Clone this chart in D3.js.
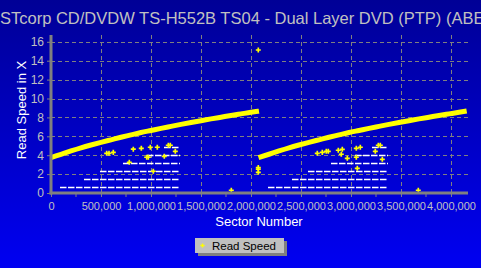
<!DOCTYPE html>
<html><head><meta charset="utf-8">
<script src="https://cdn.jsdelivr.net/npm/d3@7"></script>
<style>
html,body{margin:0;padding:0;background:#0000c0;}
svg{display:block;}
text{font-family:Arial,"Liberation Sans",sans-serif;}
</style></head>
<body>
<svg id="chart" width="481" height="268"></svg>
<script>
// ---- data ----
const titleText = "STcorp CD/DVDW TS-H552B TS04 - Dual Layer DVD (PTP) (ABE";
const xTickValues = [0, 500000, 1000000, 1500000, 2000000, 2500000, 3000000, 3500000, 4000000];
const xMinorTicks = [250000, 750000, 1250000, 1750000, 2250000, 2750000, 3250000, 3750000];
const yTickValues = [0, 2, 4, 6, 8, 10, 12, 14, 16];

// main read speed curve, layer 0
const layer0Sectors = [0, 100000, 200000, 300000, 400000, 500000, 600000, 700000, 800000, 900000, 1000000, 1100000, 1200000, 1300000, 1400000, 1500000, 1600000, 1700000, 1800000, 1900000, 2000000, 2080000];
const layer0Speeds  = [3.75, 4.1, 4.45, 4.78, 5.08, 5.36, 5.63, 5.9, 6.15, 6.4, 6.62, 6.84, 7.05, 7.26, 7.46, 7.65, 7.84, 8.02, 8.2, 8.37, 8.54, 8.66];
// layer 1
const layer1Sectors = [2075000, 2180000, 2280000, 2380000, 2480000, 2580000, 2680000, 2780000, 2880000, 2980000, 3080000, 3180000, 3280000, 3380000, 3480000, 3580000, 3680000, 3780000, 3880000, 3980000, 4080000, 4157000];
const layer1Speeds  = [3.75, 4.1, 4.45, 4.78, 5.08, 5.36, 5.63, 5.9, 6.15, 6.4, 6.62, 6.84, 7.05, 7.26, 7.46, 7.65, 7.84, 8.02, 8.2, 8.37, 8.54, 8.68];

// scattered read speed samples
const scatterSectors = [557000, 580000, 623000, 783000, 823000, 903000, 957000, 973000, 993000, 1023000, 1063000, 1133000, 1173000, 1193000, 1243000, 1803000,
  2073000, 2073000, 2073000, 2073000,
  2663000, 2713000, 2753000, 2773000, 2873000, 2903000, 2913000, 2963000, 3053000, 3053000, 3063000, 3093000, 3243000, 3273000, 3293000, 3313000, 3673000];
const scatterSpeeds  = [4.2, 4.2, 4.3, 3.25, 4.64, 4.73, 3.78, 3.78, 4.84, 2.3, 4.84, 3.88, 5.05, 5.05, 4.41, 0.29,
  15.13, 2.7, 2.52, 2.19,
  4.2, 4.3, 4.41, 4.41, 4.52, 4.1, 4.62, 3.67, 4.73, 3.78, 2.61, 4.84, 4.41, 5.05, 5.05, 3.56, 0.29];

// white dashed level lines
const levelValues = [0.63, 1.48, 2.33, 3.17, 4.02, 4.87, 0.63, 1.48, 2.33, 3.17, 4.02, 4.87];
const levelStarts = [90000, 330000, 490000, 720000, 960000, 1130000, 2170000, 2410000, 2570000, 2800000, 3040000, 3210000];
const levelEnds   = [1290000, 1290000, 1290000, 1290000, 1290000, 1290000, 3370000, 3370000, 3370000, 3370000, 3370000, 3370000];

const seriesName = "Read Speed";
const xTitle = "Sector Number";
const yTitle = "Read Speed in X";

// ---- drawing ----
const svg = d3.select("#chart");
const W = 481, H = 268;
const defs = svg.append("defs");
const grad = defs.append("linearGradient").attr("id","bg").attr("x1",0).attr("y1",0).attr("x2",0).attr("y2",1);
grad.append("stop").attr("offset","0%").attr("stop-color","#000096");
grad.append("stop").attr("offset","100%").attr("stop-color","#0000f2");
svg.append("rect").attr("width",W).attr("height",H).attr("fill","url(#bg)");

const x = d3.scaleLinear().domain([0, 4170000]).range([51, 468]);
const y = d3.scaleLinear().domain([0, 16.72]).range([193, 35]);

const gridColor = "#808080";
// grid
svg.append("g").selectAll("line").data(yTickValues.filter(d=>d>0)).join("line")
  .attr("x1", x.range()[0]).attr("x2", x.range()[1])
  .attr("y1", d=>Math.round(y(d))+0.5).attr("y2", d=>Math.round(y(d))+0.5)
  .attr("stroke", gridColor).attr("stroke-width",1).attr("stroke-dasharray","4,3");
svg.append("g").selectAll("line").data(xTickValues.filter(d=>d>0)).join("line")
  .attr("x1", d=>Math.round(x(d))+0.5).attr("x2", d=>Math.round(x(d))+0.5)
  .attr("y1", y.range()[1]).attr("y2", y.range()[0])
  .attr("stroke", gridColor).attr("stroke-width",1).attr("stroke-dasharray","4,3");

// white level lines
svg.append("g").selectAll("line").data(levelValues.map((v,i)=>({v, s:levelStarts[i], e:levelEnds[i]}))).join("line")
  .attr("x1", d=>x(d.s)).attr("x2", d=>x(d.e))
  .attr("y1", d=>Math.round(y(d.v))+0.5).attr("y2", d=>Math.round(y(d.v))+0.5)
  .attr("stroke","#ffffff").attr("stroke-width",1.5).attr("stroke-dasharray","6.5,1.5");

// curve
const line = d3.line().x(d=>x(d[0])).y(d=>y(d[1])).curve(d3.curveMonotoneX);
[[layer0Sectors, layer0Speeds],[layer1Sectors, layer1Speeds]].forEach(([s,v])=>{
  svg.append("path").datum(s.map((d,i)=>[d, v[i]]))
    .attr("d", line).attr("fill","none").attr("stroke","#ffff00").attr("stroke-width",5);
});

// scatter
const sym = d3.symbol().type(d3.symbolCross).size(14);
svg.append("g").selectAll("path").data(scatterSectors.map((d,i)=>[d, scatterSpeeds[i]])).join("path")
  .attr("d", sym).attr("transform", d=>`translate(${x(d[0])},${y(d[1])})`).attr("fill","#ffff00");

// axes
const xAxis = d3.axisBottom(x).tickValues(xTickValues).tickFormat(d3.format(",")).tickSize(4).tickPadding(5);
const gx = svg.append("g").attr("transform","translate(0,193)").call(xAxis);
gx.select(".domain").remove();
gx.selectAll(".tick line").attr("stroke", gridColor);
gx.selectAll("text").attr("fill","#c0c0c0").attr("font-size","11px").attr("font-family","Arial, 'Liberation Sans', sans-serif");
gx.selectAll(".minor").data(xMinorTicks).join("line").attr("class","minor")
  .attr("x1", d=>x(d)).attr("x2", d=>x(d)).attr("y1",0).attr("y2",4).attr("stroke",gridColor);

const yAxis = d3.axisLeft(y).tickValues(yTickValues).tickSize(4).tickPadding(3);
const gy = svg.append("g").attr("transform","translate(51,0)").call(yAxis);
gy.select(".domain").remove();
gy.selectAll(".tick line").attr("stroke", gridColor);
gy.selectAll("text").attr("fill","#c0c0c0").attr("font-size","12px").attr("font-family","Arial, 'Liberation Sans', sans-serif");

// axis lines
svg.append("line").attr("x1",51).attr("x2",51).attr("y1",35).attr("y2",194.5).attr("stroke",gridColor).attr("stroke-width",3);
svg.append("line").attr("x1",49.5).attr("x2",468).attr("y1",193).attr("y2",193).attr("stroke",gridColor).attr("stroke-width",3);

// titles
svg.append("text").attr("x",0).attr("y",24).attr("fill","#c0c0c0").attr("font-size","16.5px").text(titleText);
svg.append("text").attr("transform","translate(26,110) rotate(-90)").attr("text-anchor","middle")
  .attr("fill","#ffffff").attr("font-size","13px").text(yTitle);
svg.append("text").attr("x",259).attr("y",226).attr("text-anchor","middle")
  .attr("fill","#ffffff").attr("font-size","13px").text(xTitle);

// legend
const lg = svg.append("g");
lg.append("rect").attr("x",198).attr("y",241).attr("width",89).attr("height",15).attr("fill","#808080");
lg.append("rect").attr("x",195).attr("y",238).attr("width",89).attr("height",15).attr("fill","#c0c0c0");
lg.append("path").attr("d", d3.symbol().type(d3.symbolCross).size(10)).attr("transform","translate(202.5,245.5)").attr("fill","#ffff00");
lg.append("text").attr("x",212).attr("y",250).attr("fill","#000000").attr("font-size","11.5px").text(seriesName);
</script>
</body></html>
